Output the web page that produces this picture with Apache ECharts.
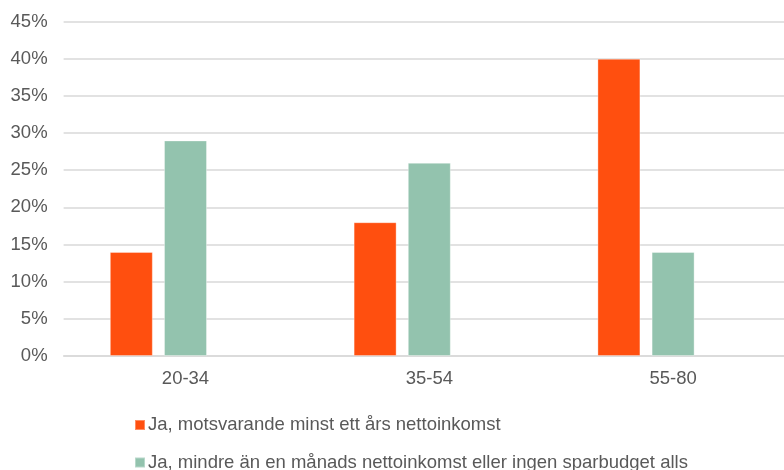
<!DOCTYPE html>
<html>
<head>
<meta charset="utf-8">
<script src="https://cdn.jsdelivr.net/npm/echarts@6/dist/echarts.min.js"></script>
<style>
  html, body { margin: 0; padding: 0; background: #ffffff; }
  #chart { width: 784px; height: 470px; }
</style>
</head>
<body>
<div id="chart"></div>
<script>
// Age groups on the x axis
const categories = ['20-34', '35-54', '55-80'];

// Share of respondents (percent)
const seriesNames = [
  'Ja, motsvarande minst ett års nettoinkomst',
  'Ja, mindre än en månads nettoinkomst eller ingen sparbudget alls'
];
const yearIncome = [14, 18, 40];
const lessThanMonth = [29, 26, 14];
// Third slot in each group is left empty
const emptySlot = [null, null, null];

const colors = ['#FF4F0F', '#93C3AE'];

const chart = echarts.init(document.getElementById('chart'), null, { renderer: 'canvas' });

const labelColor = '#595959';
const fontFamily = '"Liberation Sans", Arial, sans-serif';
const fontSize = 18.5;

const barStyle = (c) => ({
  color: c,
  borderColor: 'rgba(255,255,255,0.35)',
  borderWidth: 1
});

const legendBase = {
  orient: 'vertical',
  left: 129,
  icon: 'rect',
  itemWidth: 10,
  itemHeight: 10,
  textStyle: { color: labelColor, fontSize: fontSize, fontFamily: fontFamily, padding: [0, 0, 0, -2] }
};

chart.setOption({
  animation: false,
  backgroundColor: '#ffffff',
  textStyle: { fontFamily: fontFamily },
  // plot area runs a little past the right edge of the canvas
  grid: { left: 63.6, width: 731.4, top: 21.5, bottom: 114, containLabel: false, outerBoundsMode: 'none' },
  legend: [
    Object.assign({}, legendBase, { data: [seriesNames[0]], top: 410.5 }),
    Object.assign({}, legendBase, { data: [seriesNames[1]], top: 448 })
  ],
  xAxis: {
    type: 'category',
    data: categories,
    axisTick: { show: false },
    axisLine: { show: true, lineStyle: { color: '#d9d9d9', width: 1.5 } },
    axisLabel: { color: labelColor, fontSize: fontSize, margin: 13, fontFamily: fontFamily }
  },
  yAxis: {
    type: 'value',
    min: 0,
    max: 45,
    interval: 5,
    axisLine: { show: false },
    axisTick: { show: false },
    splitLine: { lineStyle: { color: '#d9d9d9', width: 1.5 } },
    axisLabel: {
      color: labelColor,
      fontSize: fontSize,
      margin: 16,
      fontFamily: fontFamily,
      formatter: (v) => v + '%'
    }
  },
  series: [
    { name: seriesNames[0], type: 'bar', data: yearIncome, barWidth: 43, barGap: '26%', itemStyle: barStyle(colors[0]) },
    { name: seriesNames[1], type: 'bar', data: lessThanMonth, barWidth: 43, barGap: '26%', itemStyle: barStyle(colors[1]) },
    { name: 'empty', type: 'bar', data: emptySlot, barWidth: 43, barGap: '26%', itemStyle: { color: 'transparent' } }
  ]
});
</script>
</body>
</html>
